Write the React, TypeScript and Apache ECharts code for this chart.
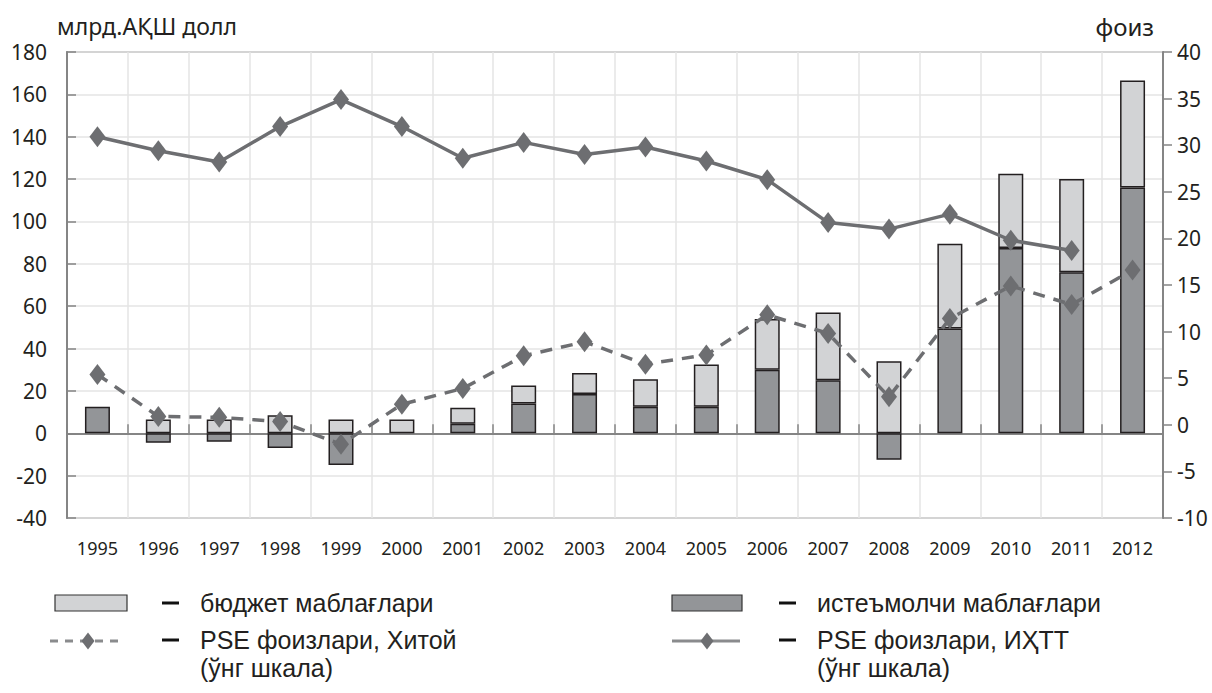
import React, { useEffect, useRef } from "react";
import * as echarts from "echarts";

const years = [
  "1995", "1996", "1997", "1998", "1999", "2000", "2001", "2002", "2003",
  "2004", "2005", "2006", "2007", "2008", "2009", "2010", "2011", "2012",
];
// consumer funds (bottom, dark), bn USD
const consumerFunds = [12.5, -4.5, -4, -7, -15, 0, 4.5, 14, 18.5, 12.5, 12.5, 30, 25, -12.5, 49.5, 87.5, 76, 116];
// budget funds (top, light), bn USD
const budgetFunds = [0, 6.5, 6.5, 8.5, 6.5, 6.5, 7.5, 8.5, 10, 13, 20, 24, 32, 34, 40, 35, 44, 50.5];
// PSE percent, China (right scale)
const pseChina = [5.4, 0.9, 0.8, 0.35, -2.1, 2.2, 3.9, 7.4, 8.9, 6.5, 7.5, 11.8, 9.8, 3.0, 11.4, 14.9, 12.9, 16.6];
// PSE percent, OECD (right scale)
const pseOECD = [30.9, 29.4, 28.2, 32.0, 34.9, 32.0, 28.6, 30.3, 29.0, 29.8, 28.3, 26.3, 21.7, 21.0, 22.6, 19.8, 18.7, null];

const leftAxis = { min: -40, max: 180, interval: 20 };
const rightAxis = { min: -10, max: 40, interval: 5 };

const leftTitle = "млрд.АҚШ долл";
const rightTitle = "фоиз";
const legendLabels = [
  "бюджет маблағлари",
  "истеъмолчи маблағлари",
  "PSE фоизлари, Хитой",
  "PSE фоизлари, ИҲТТ",
  "(ўнг шкала)",
];

const LIGHT = "#d2d3d5";
const DARK = "#939598";
const BORDER = "#231f20";
const LINE = "#6d6e71";
const GRID = "#e4e4e4";
const AXIS = "#858585";
const TXT = "#231f20";
const AX_FONT = "Noto Sans";
const LG_FONT = "Liberation Sans";

const nz = (arr: (number | null)[]) => arr.map((v) => (v === 0 || v === null ? "-" : v));

function diamond(cx: number, cy: number, w: number, h: number, color: string) {
  return {
    type: "polygon",
    shape: { points: [[cx, cy - h / 2], [cx + w / 2, cy], [cx, cy + h / 2], [cx - w / 2, cy]] },
    style: { fill: color },
  };
}

export default function App() {
  const ref = useRef<HTMLDivElement>(null);
  useEffect(() => {
    if (!ref.current) return;
    const chart = echarts.init(ref.current, null, { renderer: "svg" });
    const legendText = (x: number, y: number, t: string) => ({
      type: "text",
      x,
      y,
      style: { text: t, fill: TXT, font: `25px "${LG_FONT}"`, textVerticalAlign: "middle" },
    });
    const dash = (x: number, y: number) => ({
      type: "rect",
      shape: { x, y: y - 1.5, width: 17, height: 3 },
      style: { fill: "#111" },
    });
    chart.setOption({
      animation: false,
      backgroundColor: "#fff",
      grid: {
        left: 67,
        right: 49,
        top: 52,
        bottom: 175,
        show: true,
        borderColor: AXIS,
        borderWidth: 1.5,
        backgroundColor: "transparent",
      },
      xAxis: [
        {
          type: "category",
          data: years,
          boundaryGap: true,
          position: "bottom",
          axisLine: { show: false, onZero: false },
          axisTick: { show: false },
          axisLabel: { fontSize: 18, fontFamily: AX_FONT, color: TXT, margin: 21 },
          splitLine: { show: true, lineStyle: { color: GRID, width: 1.5 } },
        },
        {
          type: "category",
          data: years,
          boundaryGap: true,
          position: "bottom",
          axisLine: { show: true, onZero: true, lineStyle: { color: AXIS, width: 2 } },
          axisTick: { show: true, inside: true, length: 9, lineStyle: { color: AXIS, width: 1.5 } },
          axisLabel: { show: false },
          splitLine: { show: false },
        },
      ],
      yAxis: [
        {
          type: "value",
          position: "left",
          min: leftAxis.min,
          max: leftAxis.max,
          interval: leftAxis.interval,
          axisLine: { show: true, lineStyle: { color: AXIS, width: 2 } },
          axisTick: { show: true, inside: true, length: 9, lineStyle: { color: AXIS, width: 1.5 } },
          axisLabel: { fontSize: 21, fontFamily: AX_FONT, color: TXT, margin: 20 },
          splitLine: { show: true, lineStyle: { color: GRID, width: 1.5 } },
        },
        {
          type: "value",
          position: "right",
          min: rightAxis.min,
          max: rightAxis.max,
          interval: rightAxis.interval,
          axisLine: { show: true, lineStyle: { color: AXIS, width: 2 } },
          axisTick: { show: true, inside: false, length: 9, lineStyle: { color: AXIS, width: 1.5 } },
          axisLabel: { fontSize: 21, fontFamily: AX_FONT, color: TXT, margin: 14 },
          splitLine: { show: false },
        },
      ],
      series: [
        {
          name: legendLabels[1],
          type: "bar",
          stack: "funds",
          xAxisIndex: 0,
          yAxisIndex: 0,
          barWidth: 25,
          data: nz(consumerFunds),
          itemStyle: { color: DARK, borderColor: BORDER, borderWidth: 1.5 },
          z: 2,
        },
        {
          name: legendLabels[0],
          type: "bar",
          stack: "funds",
          xAxisIndex: 0,
          yAxisIndex: 0,
          barWidth: 25,
          data: nz(budgetFunds),
          itemStyle: { color: LIGHT, borderColor: BORDER, borderWidth: 1.5 },
          z: 2,
        },
        {
          name: legendLabels[3],
          type: "line",
          xAxisIndex: 0,
          yAxisIndex: 1,
          data: pseOECD,
          symbol: "diamond",
          symbolSize: [16, 21],
          lineStyle: { color: LINE, width: 3.5 },
          itemStyle: { color: LINE },
          z: 5,
        },
        {
          name: legendLabels[2],
          type: "line",
          xAxisIndex: 0,
          yAxisIndex: 1,
          data: pseChina,
          symbol: "diamond",
          symbolSize: [16, 21],
          lineStyle: { color: LINE, width: 3.5, type: [12, 9] },
          itemStyle: { color: LINE },
          z: 5,
        },
      ],
      graphic: [
        {
          type: "text",
          left: 57,
          top: 14,
          style: { text: leftTitle, fill: TXT, font: `23px "${AX_FONT}"` },
        },
        {
          type: "text",
          right: 58,
          top: 14,
          style: { text: rightTitle, fill: TXT, font: `24px "${AX_FONT}"` },
        },
        // legend row 1
        {
          type: "rect",
          shape: { x: 55, y: 595, width: 72, height: 16 },
          style: { fill: LIGHT, stroke: "#333", lineWidth: 1.2 },
        },
        dash(162, 603),
        legendText(200, 603, legendLabels[0]),
        {
          type: "rect",
          shape: { x: 672, y: 595, width: 70, height: 16 },
          style: { fill: DARK, stroke: "#333", lineWidth: 1.2 },
        },
        dash(779, 603),
        legendText(817, 603, legendLabels[1]),
        // legend row 2
        {
          type: "line",
          shape: { x1: 50, y1: 641, x2: 124, y2: 641 },
          style: { stroke: "#8a8b8d", lineWidth: 3, lineDash: [8, 7] },
        },
        diamond(88, 641, 13, 17, LINE),
        dash(162, 640),
        legendText(200, 640, legendLabels[2]),
        legendText(200, 668, legendLabels[4]),
        {
          type: "line",
          shape: { x1: 672, y1: 641, x2: 740, y2: 641 },
          style: { stroke: "#8a8b8d", lineWidth: 3 },
        },
        diamond(707, 641, 13, 17, LINE),
        dash(779, 640),
        legendText(817, 640, legendLabels[3]),
        legendText(817, 668, legendLabels[4]),
      ],
    });
    return () => chart.dispose();
  }, []);
  return (
    <div
      ref={ref}
      style={{ position: "fixed", left: 0, top: 0, width: 1212, height: 693, background: "#fff" }}
    />
  );
}
